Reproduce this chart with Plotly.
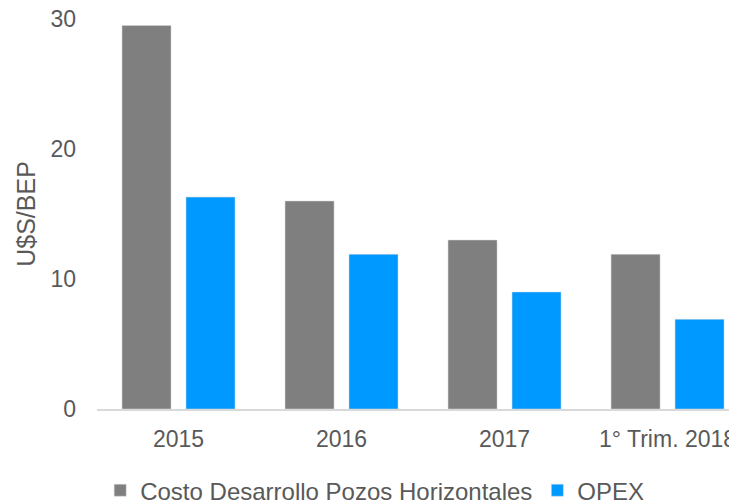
import plotly.graph_objects as go

categories = ["2015", "2016", "2017", "1° Trim. 2018"]
costo_desarrollo = [29.5, 16.0, 13.0, 11.9]
opex = [16.3, 11.9, 9.0, 6.9]

font_family = "Liberation Sans, Arial, sans-serif"
text_color = "#595959"

fig = go.Figure()

fig.add_trace(
    go.Bar(
        x=categories,
        y=costo_desarrollo,
        name="Costo Desarrollo Pozos Horizontales",
        marker=dict(color="#7f7f7f", line=dict(color="#d9d9d9", width=0.5)),
    )
)
fig.add_trace(
    go.Bar(
        x=categories,
        y=opex,
        name="OPEX",
        marker=dict(color="#0099ff", line=dict(color="#d9d9d9", width=0.5)),
    )
)

# the page body has an 8px margin, so the figure is sized to fill the rest of the window
fig.update_layout(
    width=729,
    height=493,
    margin=dict(l=89, r=0, t=11, b=92),
    plot_bgcolor="white",
    paper_bgcolor="white",
    font=dict(family=font_family, color=text_color, size=23),
    barmode="group",
    bargap=0.215,
    bargroupgap=0.234,
    showlegend=True,
    legend=dict(
        orientation="h",
        xref="container",
        yref="container",
        x=0.503,
        xanchor="center",
        y=0.021,
        yanchor="middle",
        font=dict(size=24, color=text_color),
        itemwidth=30,
        tracegroupgap=0,
    ),
)

fig.update_xaxes(
    type="category",
    range=[-0.5, 3.426],
    automargin=False,
    showline=True,
    linecolor="#d9d9d9",
    linewidth=2,
    showgrid=False,
    ticks="",
    tickfont=dict(size=23),
    ticklabelstandoff=8,
    ticklabeloverflow="allow",
)

fig.update_yaxes(
    range=[0, 30],
    tickvals=[0, 10, 20, 30],
    automargin=False,
    showgrid=False,
    zeroline=False,
    showline=False,
    ticks="",
    tickfont=dict(size=23),
    ticklabelstandoff=20,
    ticklabeloverflow="allow",
    title=dict(text="U$S/BEP", font=dict(size=25), standoff=7),
)

fig.write_html("out.html")
